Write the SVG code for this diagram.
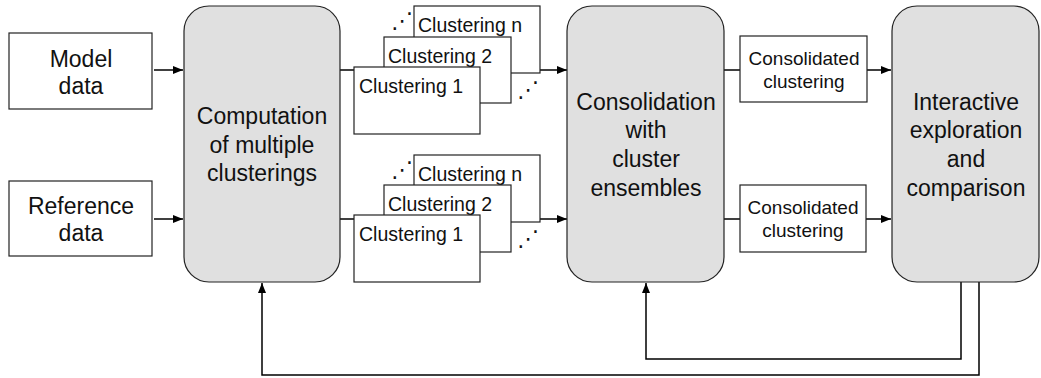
<svg xmlns="http://www.w3.org/2000/svg" width="1041" height="378" viewBox="0 0 1041 378">
<defs>
<marker id="ah" markerWidth="10" markerHeight="8" refX="10" refY="4" orient="auto" markerUnits="userSpaceOnUse">
<path d="M0,0 L10,4 L0,8 Z" fill="#000"/>
</marker>
<style>
.proc{fill:#e0e0e0;stroke:#222;stroke-width:1.2}
.box{fill:#fff;stroke:#222;stroke-width:1.2}
.big{font-family:"Liberation Sans",Arial,sans-serif;font-size:23px;fill:#111;text-anchor:middle}
.mid{font-family:"Liberation Sans",Arial,sans-serif;font-size:19.5px;fill:#111}
.sm{font-family:"Liberation Sans",Arial,sans-serif;font-size:19px;fill:#111;text-anchor:middle}
.dots{font-family:"DejaVu Sans",sans-serif;font-size:22px;fill:#111;text-anchor:middle}
.conn{fill:none;stroke:#000;stroke-width:1.5}
</style>
</defs>
<rect width="1041" height="378" fill="#fff"/>

<g id="connectors">
<path class="conn" d="M154,70 H183" marker-end="url(#ah)"/>
<path class="conn" d="M154,219 H183" marker-end="url(#ah)"/>
<path class="conn" d="M340,70 H354"/>
<path class="conn" d="M340,219 H354"/>
<path class="conn" d="M540,70 H567" marker-end="url(#ah)"/>
<path class="conn" d="M540,219 H567" marker-end="url(#ah)"/>
<path class="conn" d="M724,70 H740"/>
<path class="conn" d="M724,219 H740"/>
<path class="conn" d="M867,70 H891" marker-end="url(#ah)"/>
<path class="conn" d="M866,219 H891" marker-end="url(#ah)"/>
<path class="conn" d="M961,282 V359 H646 V283" marker-end="url(#ah)"/>
<path class="conn" d="M979,282 V375 H262 V283" marker-end="url(#ah)"/>
</g>

<g id="model-data">
<rect class="box" x="9" y="33" width="143" height="76"/>
<text class="big" x="81" y="67">Model</text>
<text class="big" x="81" y="94">data</text>
</g>

<g id="reference-data">
<rect class="box" x="9" y="181" width="143" height="75"/>
<text class="big" x="81" y="214">Reference</text>
<text class="big" x="81" y="241">data</text>
</g>

<g id="computation">
<rect class="proc" x="184" y="6" width="156" height="276" rx="25" ry="25"/>
<text class="big" x="262" y="124">Computation</text>
<text class="big" x="262" y="153">of multiple</text>
<text class="big" x="262" y="181">clusterings</text>
</g>

<g id="clusterings-model">
<rect class="box" x="414" y="6" width="126" height="67"/>
<text class="mid" x="418" y="32">Clustering n</text>
<text class="dots" x="402" y="28">⋰</text>
<rect class="box" x="384" y="37" width="127" height="66"/>
<text class="mid" x="388" y="63">Clustering 2</text>
<rect class="box" x="354" y="67" width="126" height="67"/>
<text class="mid" x="359" y="93">Clustering 1</text>
<text class="dots" x="528" y="97">⋰</text>
</g>

<g id="clusterings-reference">
<rect class="box" x="414" y="155" width="126" height="67"/>
<text class="mid" x="418" y="181">Clustering n</text>
<text class="dots" x="402" y="177">⋰</text>
<rect class="box" x="384" y="185" width="127" height="67"/>
<text class="mid" x="388" y="211">Clustering 2</text>
<rect class="box" x="354" y="215" width="126" height="67"/>
<text class="mid" x="359" y="241">Clustering 1</text>
<text class="dots" x="528" y="246">⋰</text>
</g>

<g id="consolidation">
<rect class="proc" x="567" y="6" width="157" height="276" rx="25" ry="25"/>
<text class="big" x="646" y="110">Consolidation</text>
<text class="big" x="646" y="138">with</text>
<text class="big" x="646" y="167">cluster</text>
<text class="big" x="646" y="196">ensembles</text>
</g>

<g id="consolidated-model">
<rect class="box" x="740" y="36" width="127" height="66"/>
<text class="sm" x="804" y="65">Consolidated</text>
<text class="sm" x="804" y="88">clustering</text>
</g>

<g id="consolidated-reference">
<rect class="box" x="740" y="185" width="126" height="67"/>
<text class="sm" x="803" y="214">Consolidated</text>
<text class="sm" x="803" y="237">clustering</text>
</g>

<g id="interactive">
<rect class="proc" x="892" y="6" width="147" height="276" rx="25" ry="25"/>
<text class="big" x="966" y="110">Interactive</text>
<text class="big" x="966" y="138">exploration</text>
<text class="big" x="966" y="167">and</text>
<text class="big" x="966" y="196">comparison</text>
</g>
</svg>
